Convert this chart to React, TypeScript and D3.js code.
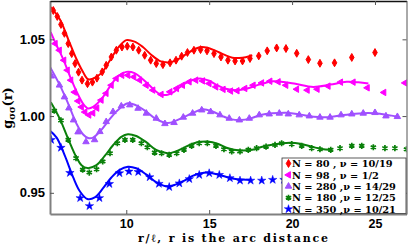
import React, { useEffect, useRef } from 'react';
import * as d3 from 'd3';

// marker data (x = r/l, y = g)
const redX = [5.60, 5.84, 6.06, 6.27, 6.50, 6.71, 6.91, 7.12, 7.33, 7.66, 7.96, 8.23, 8.55, 8.79, 9.10, 9.40, 9.74, 10.06, 10.40, 10.75, 11.11, 11.47, 11.81, 12.21, 12.64, 13.00, 13.34, 13.69, 14.08, 14.48, 14.87, 15.29, 15.71, 16.13, 16.56, 17.01, 17.46, 17.99, 18.50, 19.07, 19.63, 20.28, 20.98, 21.68, 22.56, 23.60, 25.00];
const redY = [1.0688, 1.0649, 1.0597, 1.0539, 1.0472, 1.0407, 1.0342, 1.0286, 1.0234, 1.0211, 1.0221, 1.0247, 1.0288, 1.0331, 1.0385, 1.0429, 1.0450, 1.0455, 1.0450, 1.0429, 1.0396, 1.0364, 1.0342, 1.0335, 1.0347, 1.0364, 1.0390, 1.0414, 1.0429, 1.0433, 1.0425, 1.0407, 1.0385, 1.0364, 1.0359, 1.0359, 1.0375, 1.0392, 1.0425, 1.0444, 1.0440, 1.0409, 1.0368, 1.0344, 1.0347, 1.0382, 1.0414];
const redLineX = [5.44, 6.0, 6.5, 7.0, 7.4, 7.7, 8.0, 8.5, 9.0, 9.5, 10.0, 10.5, 11.0, 11.5, 12.0, 12.4, 12.8, 13.2, 13.7, 14.2, 14.5, 14.9, 15.4, 15.9, 16.4, 16.8, 17.2, 17.6];
const redLineY = [1.071, 1.063, 1.050, 1.037, 1.0285, 1.024, 1.0245, 1.028, 1.036, 1.0445, 1.0495, 1.0485, 1.045, 1.040, 1.036, 1.035, 1.0355, 1.0375, 1.041, 1.044, 1.045, 1.0445, 1.0425, 1.040, 1.038, 1.0378, 1.0383, 1.0396];

const magX = [5.72, 5.97, 6.24, 6.45, 6.66, 6.88, 7.09, 7.30, 7.51, 7.75, 7.99, 8.23, 8.49, 8.79, 9.10, 9.40, 9.74, 10.10, 10.46, 10.81, 11.21, 11.61, 12.11, 12.64, 13.04, 13.40, 13.80, 14.20, 14.61, 15.00, 15.41, 15.85, 16.30, 16.69, 17.16, 17.66, 18.17, 18.67, 19.17, 19.63, 20.28, 20.92, 21.52, 22.18, 22.93, 23.69, 24.54, 25.54, 26.81];
const magY = [1.0472, 1.0429, 1.0364, 1.0299, 1.0234, 1.0156, 1.0098, 1.0059, 1.0026, 1.0007, 1.0020, 1.0052, 1.0104, 1.0148, 1.0201, 1.0245, 1.0266, 1.0266, 1.0255, 1.0234, 1.0201, 1.0169, 1.0141, 1.0158, 1.0180, 1.0201, 1.0223, 1.0234, 1.0229, 1.0212, 1.0190, 1.0174, 1.0163, 1.0165, 1.0180, 1.0201, 1.0216, 1.0227, 1.0223, 1.0201, 1.0175, 1.0169, 1.0175, 1.0195, 1.0221, 1.0221, 1.0184, 1.0154, 1.0216];
const magLineX = [5.44, 5.8, 6.2, 6.6, 7.0, 7.4, 7.7, 8.0, 8.5, 9.0, 9.5, 10.0, 10.5, 11.0, 11.5, 12.0, 12.4, 12.9, 13.5, 14.0, 14.45, 15.0, 15.5, 16.0, 16.66, 17.3, 18.0, 18.87, 19.5, 20.2, 21.28, 22.3, 23.29, 24.0, 24.6];
const magLineY = [1.0547, 1.046, 1.037, 1.026, 1.016, 1.008, 1.005, 1.006, 1.011, 1.019, 1.026, 1.0288, 1.028, 1.024, 1.019, 1.0145, 1.0137, 1.016, 1.021, 1.0235, 1.0245, 1.023, 1.020, 1.0178, 1.0169, 1.018, 1.0205, 1.0227, 1.0222, 1.021, 1.019, 1.0205, 1.0223, 1.022, 1.0212];

const purX = [5.48, 5.97, 6.27, 6.54, 6.82, 7.09, 7.57, 8.09, 8.41, 8.79, 9.20, 9.70, 10.21, 10.71, 11.21, 11.81, 12.33, 12.88, 13.44, 14.00, 14.55, 15.09, 15.65, 16.21, 16.82, 17.42, 18.02, 18.62, 19.23, 19.77, 20.43, 21.04, 21.68, 22.29, 22.95, 23.60, 24.29, 25.00, 25.66, 26.35];
const purY = [1.0260, 1.0201, 1.0124, 1.0052, 0.9974, 0.9896, 0.9832, 0.9845, 0.9898, 0.9963, 1.0028, 1.0065, 1.0072, 1.0050, 1.0018, 0.9985, 0.9950, 0.9957, 0.9992, 1.0018, 1.0039, 1.0028, 1.0007, 0.9985, 0.9974, 0.9985, 1.0007, 1.0013, 1.0018, 1.0013, 1.0007, 1.0000, 0.9992, 0.9992, 1.0007, 1.0013, 1.0018, 1.0022, 1.0000, 0.9996];
const purLineX = [5.40, 6.0, 6.5, 7.0, 7.4, 7.7, 8.0, 8.5, 9.0, 9.5, 10.1, 10.6, 11.2, 11.8, 12.5, 13.0, 13.5, 14.0, 14.6, 15.2, 15.8, 16.3, 16.9, 17.5, 18.1, 18.8, 19.7, 20.5, 21.3, 22.2, 23.0, 23.8, 24.6, 25.3, 26.0, 26.4];
const purLineY = [1.032, 1.020, 1.008, 0.995, 0.988, 0.9857, 0.986, 0.991, 0.998, 1.004, 1.0083, 1.007, 1.003, 0.998, 0.9955, 0.997, 0.9995, 1.002, 1.0044, 1.003, 1.000, 0.998, 0.9974, 0.9985, 1.0007, 1.0018, 1.0022, 1.001, 0.9995, 0.9993, 1.0005, 1.0015, 1.002, 1.0015, 1.0003, 0.9997];

const grnX = [5.66, 6.06, 6.50, 6.97, 7.37, 7.77, 8.21, 8.58, 9.02, 9.46, 9.92, 10.39, 10.91, 11.27, 11.71, 12.13, 12.59, 13.04, 13.48, 13.94, 14.40, 14.89, 15.41, 15.89, 16.36, 16.86, 17.36, 17.86, 18.43, 18.97, 19.37, 19.98, 20.58, 21.18, 21.68, 22.33, 22.89, 23.60, 24.20, 24.90, 25.60, 26.20, 26.90];
const grnY = [1.0035, 0.9972, 0.9845, 0.9726, 0.9650, 0.9632, 0.9654, 0.9704, 0.9758, 0.9823, 0.9845, 0.9845, 0.9823, 0.9797, 0.9762, 0.9758, 0.9747, 0.9758, 0.9780, 0.9806, 0.9823, 0.9823, 0.9806, 0.9784, 0.9769, 0.9769, 0.9780, 0.9791, 0.9801, 0.9812, 0.9823, 0.9817, 0.9806, 0.9791, 0.9784, 0.9780, 0.9791, 0.9806, 0.9806, 0.9797, 0.9791, 0.9791, 0.9784];
const grnLineX = [5.45, 6.0, 6.5, 7.0, 7.3, 7.65, 8.2, 8.7, 9.2, 9.7, 10.1, 10.6, 11.2, 11.8, 12.5, 13.0, 13.5, 14.0, 14.5, 14.9, 15.5, 16.0, 16.5, 17.0, 17.6, 18.2, 18.7, 19.3, 19.9, 20.5, 21.2, 21.8, 22.3];
const grnLineY = [1.009, 0.998, 0.985, 0.973, 0.968, 0.9661, 0.968, 0.974, 0.981, 0.9865, 0.9882, 0.987, 0.983, 0.978, 0.9758, 0.977, 0.9795, 0.982, 0.9832, 0.9834, 0.982, 0.9795, 0.978, 0.9775, 0.978, 0.980, 0.9812, 0.9822, 0.9827, 0.982, 0.980, 0.9785, 0.978];

const bluX = [5.47, 6.06, 6.60, 7.22, 7.78, 8.38, 8.98, 9.59, 10.16, 10.72, 11.41, 11.97, 12.59, 13.20, 13.80, 14.40, 15.00, 15.61, 16.25, 16.86, 17.50, 18.17, 18.83, 19.51];
const bluY = [0.9845, 0.9794, 0.9630, 0.9466, 0.9414, 0.9466, 0.9558, 0.9628, 0.9639, 0.9636, 0.9602, 0.9559, 0.9538, 0.9562, 0.9590, 0.9617, 0.9628, 0.9617, 0.9596, 0.9580, 0.9580, 0.9580, 0.9585, 0.9585];
const bluLineX = [5.38, 5.8, 6.3, 6.8, 7.2, 7.65, 8.1, 8.6, 9.1, 9.6, 10.1, 10.6, 11.2, 11.8, 12.5, 13.0, 13.5, 14.0, 14.5, 14.95, 15.5, 16.0, 16.5, 17.0, 17.56];
const bluLineY = [0.9905, 0.986, 0.974, 0.960, 0.951, 0.946, 0.947, 0.953, 0.960, 0.965, 0.967, 0.966, 0.962, 0.957, 0.9541, 0.9555, 0.958, 0.961, 0.9628, 0.9632, 0.962, 0.9605, 0.9592, 0.9587, 0.9585];

const labels = ['N = 80 , \u03BD = 10/19', 'N = 98 , \u03BD = 1/2', 'N = 280 ,\u03BD = 14/29', 'N = 180 ,\u03BD = 12/25', 'N = 350 ,\u03BD = 10/21'];
const xTicks = [10, 15, 20, 25];
const yTicks = [0.95, 1.0, 1.05];

const series = [
  { color: '#ff0000', kind: 'diamond', xs: redX, ys: redY, lx: redLineX, ly: redLineY },
  { color: '#ff00ff', kind: 'left', xs: magX, ys: magY, lx: magLineX, ly: magLineY },
  { color: '#a050ff', kind: 'up', xs: purX, ys: purY, lx: purLineX, ly: purLineY },
  { color: '#0a800a', kind: 'asterisk', xs: grnX, ys: grnY, lx: grnLineX, ly: grnLineY },
  { color: '#0000ff', kind: 'star', xs: bluX, ys: bluY, lx: bluLineX, ly: bluLineY },
];

function drawMarker(g: any, kind: string, color: string, cx: number, cy: number) {
  if (kind === 'asterisk') {
    g.append('path')
      .attr('d', d3.symbol(d3.symbolAsterisk, 26)())
      .attr('transform', `translate(${cx},${cy})`)
      .attr('fill', 'none')
      .attr('stroke', color)
      .attr('stroke-width', 1.7);
    return;
  }
  const type = kind === 'diamond' ? d3.symbolDiamond : kind === 'star' ? d3.symbolStar : d3.symbolTriangle;
  const size = kind === 'diamond' ? 18 : kind === 'star' ? 22 : 18;
  const rot = kind === 'left' ? ' rotate(-90)' : '';
  g.append('path')
    .attr('d', d3.symbol(type, size)())
    .attr('transform', `translate(${cx},${cy})${rot}`)
    .attr('fill', color)
    .attr('stroke', color)
    .attr('stroke-width', kind === 'star' ? 0.5 : 1);
}

function GofRChart() {
  const svgRef = useRef<SVGSVGElement>(null);

  useEffect(() => {
    const svg = d3.select(svgRef.current);
    svg.selectAll('*').remove();

    const left = 50, right = 406.5, top = 0.5, bottom = 214;
    const x = d3.scaleLinear().domain([5.4, 26.9]).range([left, right]);
    const y = d3.scaleLinear().domain([0.9362, 1.0753]).range([bottom, top]);

    svg.append('rect').attr('width', 409).attr('height', 245).attr('fill', '#fff');

    svg.append('clipPath').attr('id', 'plotclip')
      .append('rect').attr('x', left).attr('y', top).attr('width', right - left).attr('height', bottom - top);

    const plot = svg.append('g').attr('clip-path', 'url(#plotclip)');

    const line = d3.line<number>()
      .curve(d3.curveCatmullRom.alpha(0.5));

    series.forEach(s => {
      const gm = plot.append('g');
      s.xs.forEach((v, i) => drawMarker(gm, s.kind, s.color, x(v), y(s.ys[i])));
      plot.append('path')
        .attr('d', line.x((_, i) => x(s.lx[i])).y((_, i) => y(s.ly[i]))(s.lx))
        .attr('fill', 'none')
        .attr('stroke', s.color)
        .attr('stroke-width', 2);
    });

    // axes with inward ticks
    const tickFont = (sel: any) => sel.selectAll('text')
      .attr('font-family', '"Liberation Sans", Arial, sans-serif')
      .attr('font-weight', 'bold')
      .attr('font-size', 12.5)
      .attr('fill', '#000');

    const xb = svg.append('g').attr('transform', `translate(0,${bottom})`)
      .call(d3.axisBottom(x).tickValues(xTicks).tickFormat(d3.format('d')).tickSizeInner(-4).tickSizeOuter(0).tickPadding(5));
    tickFont(xb);
    xb.select('.domain').attr('stroke', '#808080').attr('stroke-width', 2);
    xb.selectAll('line').attr('stroke', '#555');

    const yl = svg.append('g').attr('transform', `translate(${left},0)`)
      .call(d3.axisLeft(y).tickValues(yTicks).tickFormat(d3.format('.2f')).tickSizeInner(-4).tickSizeOuter(0).tickPadding(5));
    tickFont(yl);
    yl.selectAll('text').attr('font-size', 13);
    yl.select('.domain').attr('stroke', '#808080').attr('stroke-width', 2);
    yl.selectAll('line').attr('stroke', '#555');

    const xt = svg.append('g').attr('transform', `translate(0,${top + 0.5})`)
      .call(d3.axisTop(x).tickValues(xTicks).tickFormat(() => '').tickSizeInner(-4).tickSizeOuter(0));
    xt.select('.domain').attr('stroke', '#111').attr('stroke-width', 1.5);
    xt.selectAll('line').attr('stroke', '#555');

    const yr = svg.append('g').attr('transform', `translate(${right},0)`)
      .call(d3.axisRight(y).tickValues(yTicks).tickFormat(() => '').tickSizeInner(-4).tickSizeOuter(0));
    yr.select('.domain').attr('stroke', '#555').attr('stroke-width', 1);
    yr.selectAll('line').attr('stroke', '#555');

    // axis titles
    svg.append('text')
      .attr('x', 233)
      .attr('y', 241.5)
      .attr('text-anchor', 'middle')
      .attr('font-family', '"DejaVu Serif", serif')
      .attr('font-weight', 'bold')
      .attr('font-size', 11)
      .attr('textLength', 190)
      .text('r/\u2113, r is the arc distance');

    const ylab = svg.append('text')
      .attr('transform', 'translate(11.5,108) rotate(-90)')
      .attr('text-anchor', 'middle')
      .attr('font-family', '"DejaVu Serif", serif')
      .attr('font-weight', 'bold')
      .attr('font-size', 13);
    ylab.append('tspan').text('g');
    ylab.append('tspan').attr('font-size', 9).attr('dy', 3).text('\u03C3\u03C3');
    ylab.append('tspan').attr('dy', -3).text('(r)');

    // legend
    const lg = svg.append('g');
    lg.append('rect')
      .attr('x', 282).attr('y', 158).attr('width', 124).attr('height', 55.5)
      .attr('fill', '#fff').attr('stroke', '#333').attr('stroke-width', 0.8);
    series.forEach((s, i) => {
      const cy = 163.5 + i * 11.4;
      drawMarker(lg, s.kind, s.color, 288.5, cy);
      lg.append('text')
        .attr('x', 292)
        .attr('y', cy + 3.6)
        .attr('font-family', '"DejaVu Serif", serif')
        .attr('font-weight', 'bold')
        .attr('font-size', 9.8)
        .text(labels[i]);
    });
  }, []);

  return (
    <div style={{ position: 'absolute', left: 0, top: 0 }}>
      <svg ref={svgRef} width={409} height={245}></svg>
    </div>
  );
}

export default function App() {
  return <GofRChart />;
}
